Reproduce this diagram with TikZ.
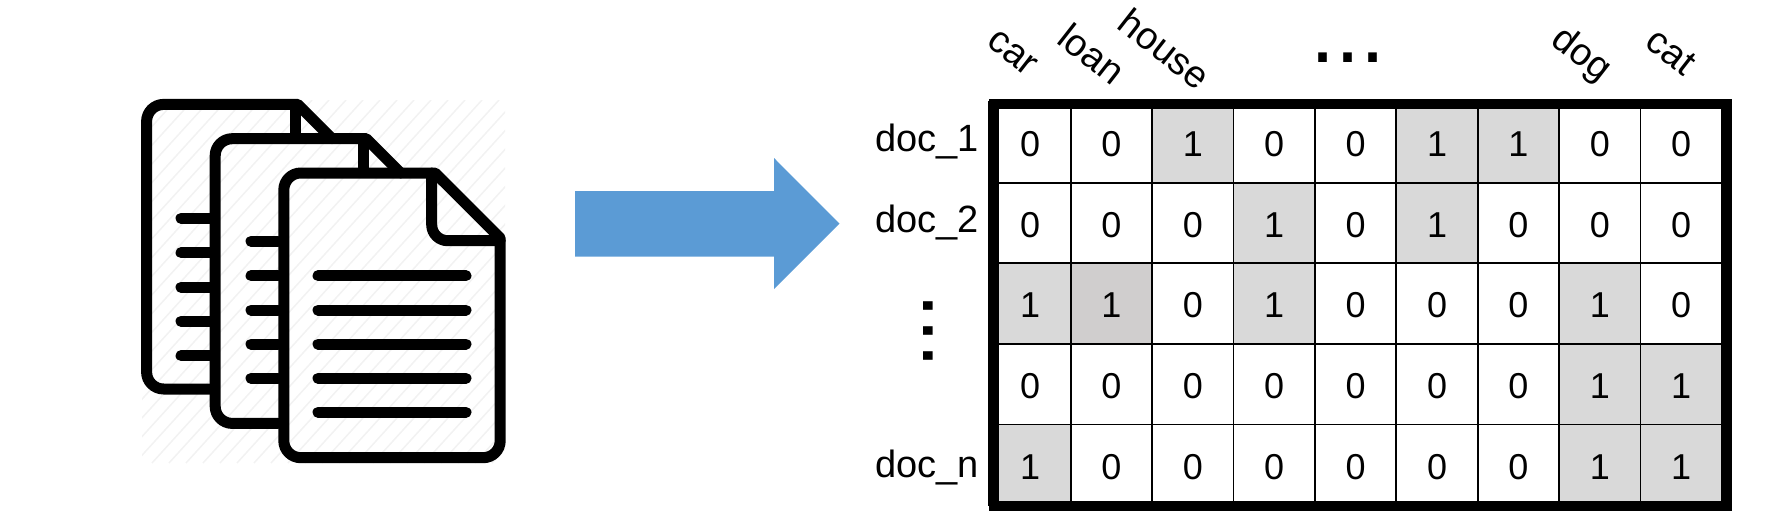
\documentclass[tikz,border=0pt]{standalone}
\usepackage{fontspec}
\setmainfont{Liberation Sans}
\definecolor{arrowblue}{HTML}{5B9BD5}
\definecolor{cellgrey}{HTML}{D9D9D9}
\definecolor{cellmauve}{HTML}{D0CECE}
\definecolor{hatchgrey}{HTML}{F2F2F2}
\tikzset{
  cell/.style={draw=black, line width=1.8pt, minimum width=81.4pt, minimum height=80.6pt,
    inner sep=0pt, text height=28.5pt, text depth=0pt},
  doctext/.style={inner sep=0pt, anchor=base west, font=\fontsize{38}{42}\selectfont},
  termtext/.style={inner sep=0pt, rotate=-38, anchor=center, font=\fontsize{38}{42}\selectfont},
  dotstext/.style={inner sep=0pt, anchor=base, font=\fontsize{90}{90}\selectfont},
  iconline/.style={line width=11pt, line cap=round, line join=round},
}

\begin{document}
\begin{tikzpicture}[x=1pt, y=-1pt, font=\fontsize{36}{40}\selectfont]
  \useasboundingbox (0,0) rectangle (1788,525);

  % Hatching behind the icon
  \begin{scope}
    \clip (142,100) rectangle (505,463);
    \foreach \d in {0,17,...,800} {
      \draw[hatchgrey, line width=1.5pt] (142+\d-330,463) -- (142+\d,100);
    }
  \end{scope}

  % Back page
  \draw[iconline, rounded corners=17pt] (210,389) -- (146.6,389) -- (146.6,104.4) [sharp corners] -- (297.8,104.4) -- (332,138.7);
  \draw[iconline, line cap=butt] (295,104.4) -- (295,138.7);
  \foreach \y in {218.3,252.7,287.3,321.3,355.7} {
    \draw[iconline] (181,\y) -- (210,\y);
  }

  % Middle page
  \draw[iconline, rounded corners=17pt] (278,423.4) -- (215.2,423.4) -- (215.2,138.7) [sharp corners] -- (366.4,138.7) -- (400.7,173);
  \draw[iconline, line cap=butt] (363.1,138.7) -- (363.1,173);
  \foreach \y in {241.3,275.7,310,344,378.3} {
    \draw[iconline] (251,\y) -- (278,\y);
  }

  % Front page
  \draw[iconline, rounded corners=17pt] (435,173) -- (283.8,173) -- (283.8,457.7) -- (500.2,457.7) [sharp corners] -- (500.2,238) -- cycle;
  \draw[iconline, rounded corners=16pt] (431.7,173) -- (431.7,240.7) -- (500.2,240.7);
  \foreach \y in {275.7,310,344,378.3,412.3} {
    \draw[iconline] (318,\y) -- (466,\y);
  }

  % Arrow
  \fill[arrowblue] (575,191) -- (774,191) -- (774,158) -- (839.5,223.7) -- (774,289) -- (774,256.7) -- (575,256.7) -- cycle;

  % Matrix
  \foreach \row/\vals in {1/{0,0,1,0,0,1,1,0,0}, 2/{0,0,0,1,0,1,0,0,0}, 3/{1,1,0,1,0,0,0,1,0},
      4/{0,0,0,0,0,0,0,1,1}, 5/{1,0,0,0,0,0,0,1,1}} {
    \foreach \v [count=\col] in \vals {
      \ifnum\v=1 \def\shade{cellgrey}\else \def\shade{white}\fi
      \node[cell, fill=\shade] (c\row\col) at (948.6+81.4*\col, 61.8+80.6*\row) {\v};
    }
  }
  \node[cell, fill=cellmauve] (c32b) at (c32) {1};
  \draw[line width=10pt] (993.5,103.7) rectangle (1727,505.7);

  % Row labels
  \node[doctext] (doc1) at (875,151.7) {doc\_1};
  \node[doctext] (doc2) at (875,232) {doc\_2};
  \node[dotstext, rotate=-90] (rowdots) at (923.7,331.3) {...};
  \node[doctext] (docn) at (875,477) {doc\_n};

  % Column labels
  \node[termtext] (car) at (1012,53) {car};
  \node[termtext] (loan) at (1092,54) {loan};
  \node[termtext] (house) at (1165,49) {house};
  \node[dotstext] (coldots) at (1347.5,62.7) {...};
  \node[termtext] (dog) at (1581,55) {dog};
  \node[termtext] (cat) at (1671,52) {cat};
\end{tikzpicture}
\end{document}
